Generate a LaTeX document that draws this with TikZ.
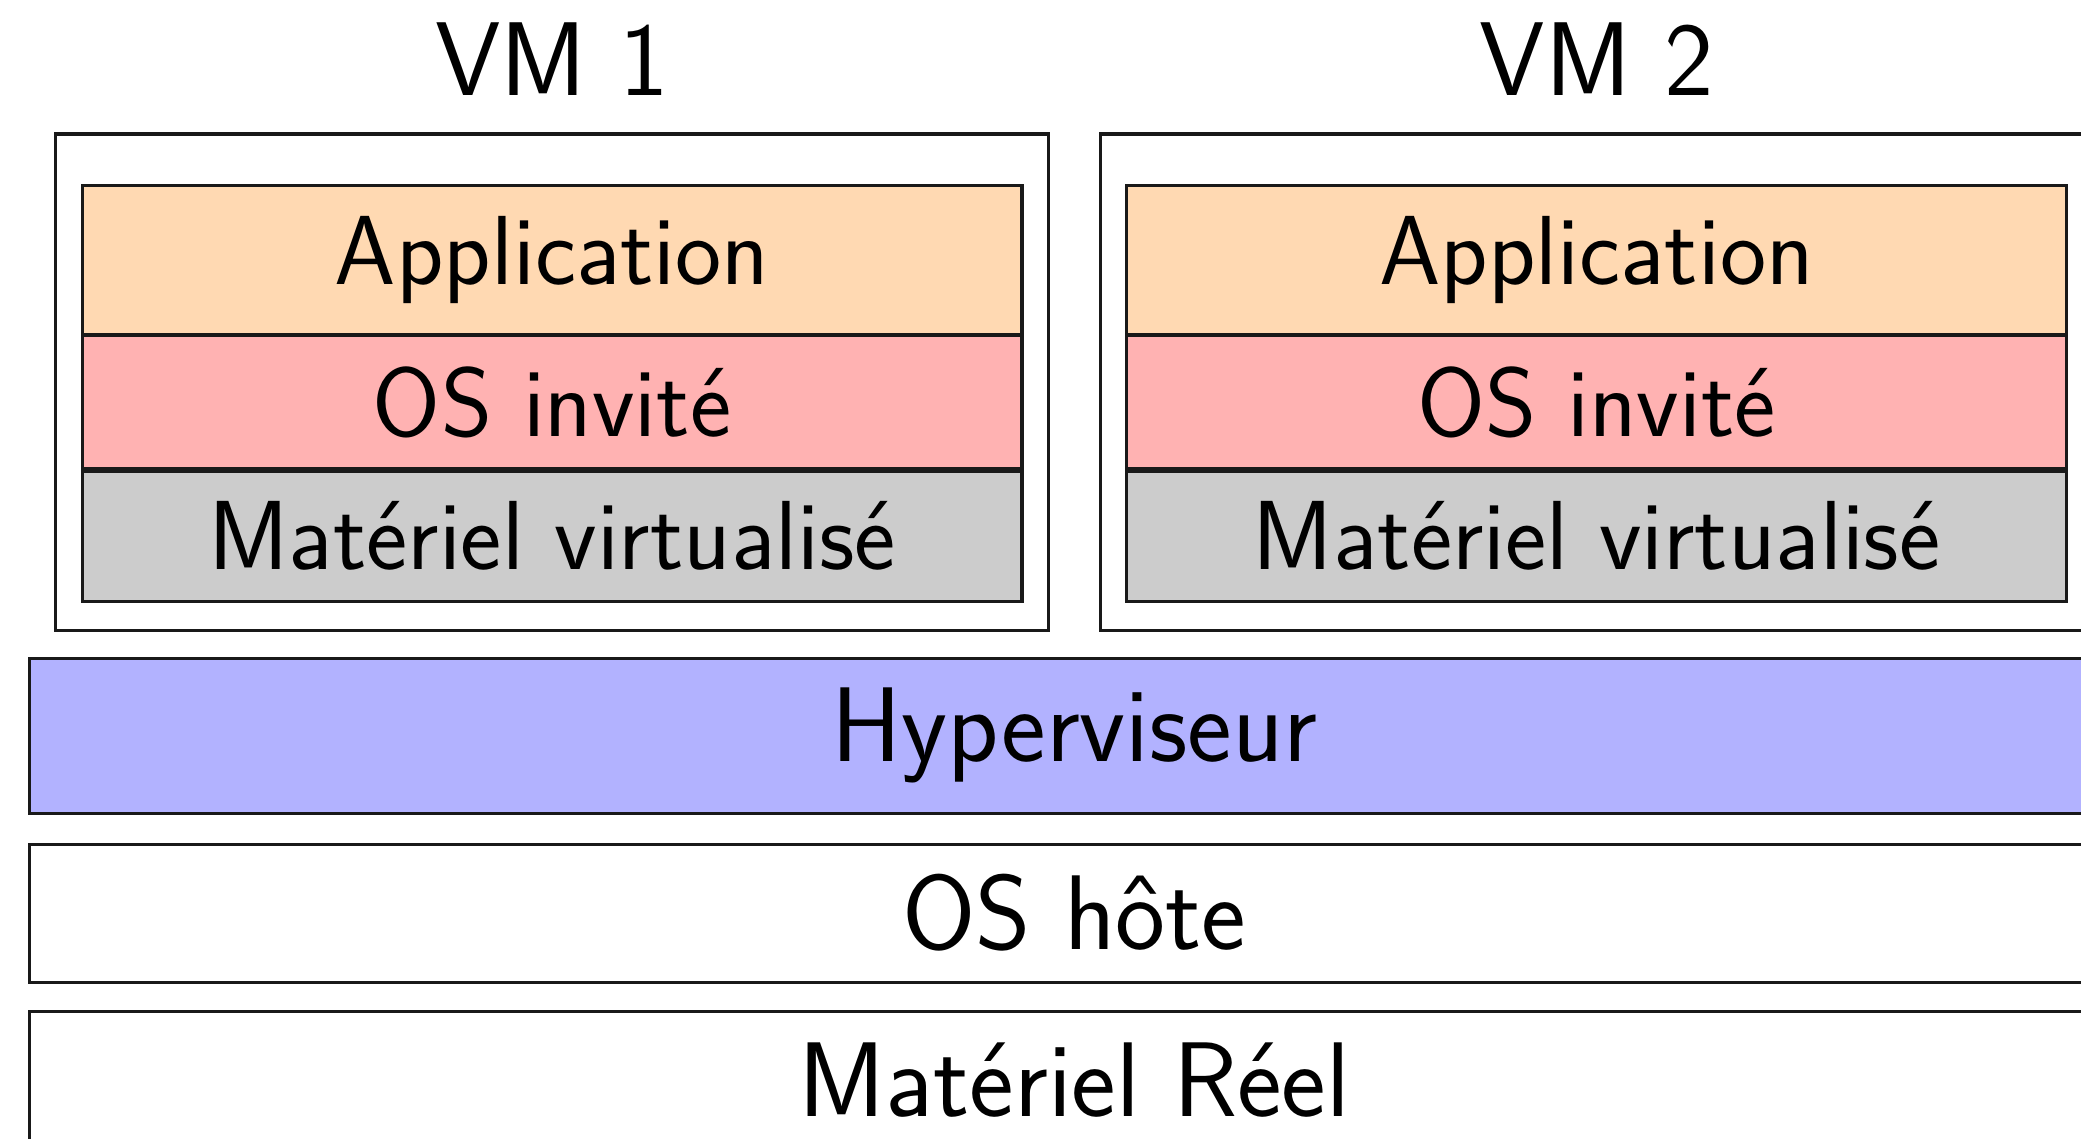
\documentclass[tikz,border=0pt]{standalone}
\usepackage{fontspec}
\setsansfont{Latin Modern Sans}
\begin{document}
\begin{tikzpicture}[x=1pt,y=-1pt,line width=2.4pt,
  every node/.style={font=\sffamily},
  bigtxt/.style={font=\sffamily\fontsize{80}{96}\selectfont},
  lbltxt/.style={font=\sffamily\fontsize{79}{95}\selectfont},
  smalltxt/.style={font=\sffamily\fontsize{74}{88}\selectfont},
  vmbox/.style={draw=black!90, fill=white, minimum width=748pt, minimum height=374pt, inner sep=0pt},
  layer/.style={draw=black!90, smalltxt, minimum width=708pt, inner sep=0pt},
  base/.style={draw=black!90, bigtxt, minimum width=1575pt, inner sep=0pt}]
\useasboundingbox (0,0) rectangle (1568,857.5);
\clip (0,0) rectangle (1568,857.5);
% VM 1
\node[vmbox] (vm1) at (416,288) {};
\node[lbltxt, anchor=base, inner sep=0pt] (vm1lbl) at (416,72) {VM 1};
\node[layer, fill=orange!30, minimum height=112pt] (app1) at (416,196) {Application};
\node[layer, fill=red!30, minimum height=100pt] (os1) at (416,303) {OS invité};
\node[layer, fill=black!20, minimum height=98pt] (mat1) at (416,404) {Matériel virtualisé};
% VM 2
\node[vmbox] (vm2) at (1203,288) {};
\node[lbltxt, anchor=base, inner sep=0pt] (vm2lbl) at (1203,72) {VM 2};
\node[layer, fill=orange!30, minimum height=112pt] (app2) at (1203,196) {Application};
\node[layer, fill=red!30, minimum height=100pt] (os2) at (1203,303) {OS invité};
\node[layer, fill=black!20, minimum height=98pt] (mat2) at (1203,404) {Matériel virtualisé};
% Base layers
\node[base, fill=blue!30, minimum height=117pt] (hyp) at (809.5,554.5) {Hyperviseur};
\node[base, fill=white, minimum height=104pt] (hote) at (809.5,688) {OS hôte};
\node[base, fill=white, minimum height=104pt] (reel) at (809.5,814) {Matériel Réel};
\end{tikzpicture}
\end{document}
